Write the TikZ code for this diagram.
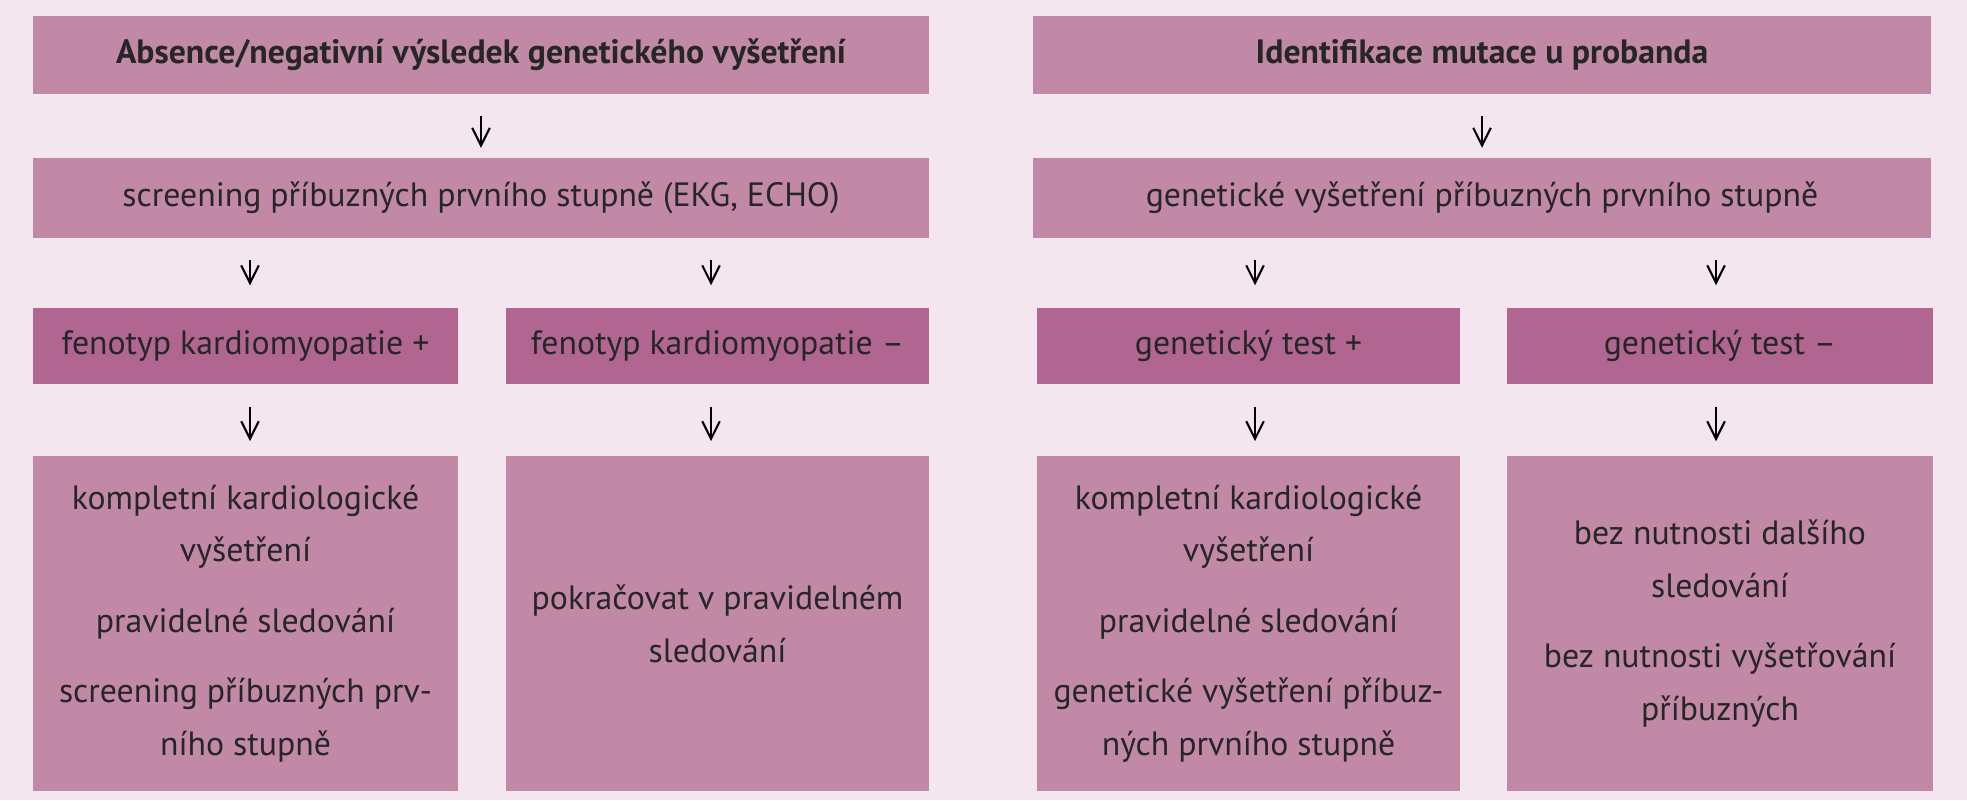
\documentclass[tikz,border=0pt]{standalone}
\usepackage{fontspec}
\setmainfont{PT Sans}
\usetikzlibrary{arrows.meta}
\definecolor{bg}{HTML}{F4E6EE}
\definecolor{boxc}{HTML}{C189A5}
\definecolor{boxd}{HTML}{B06690}
\tikzset{
 bx/.style={fill=boxc, inner sep=0pt, align=center, font=\fontsize{9.6}{15}\selectfont, text=black!85},
 dk/.style={bx, fill=boxd},
 ar/.style={-{Straight Barb[length=5pt,width=5pt]}, black, line width=0.6pt}
}
\begin{document}
\begin{tikzpicture}[x=0.01cm,y=-0.01cm]
\useasboundingbox[fill=bg] (0,0) rectangle (1967,800);
\node[bx, minimum width=8.96cm, minimum height=0.77cm, font=\fontsize{9.6}{15}\selectfont\bfseries] (h1) at (481,55) {Absence/negativní výsledek genetického vyšetření};
\node[bx, minimum width=8.98cm, minimum height=0.77cm, font=\fontsize{9.6}{15}\selectfont\bfseries] (h2) at (1482,55) {Identifikace mutace u probanda};
\node[bx, minimum width=8.96cm, minimum height=0.79cm] (s1) at (481,198) {screening příbuzných prvního stupně (EKG, ECHO)};
\node[bx, minimum width=8.98cm, minimum height=0.79cm] (s2) at (1482,198) {genetické vyšetření příbuzných prvního stupně};
\node[dk, minimum width=4.25cm, minimum height=0.76cm] (a) at (245.5,346) {fenotyp kardiomyopatie +};
\node[dk, minimum width=4.23cm, minimum height=0.76cm] (b) at (717.5,346) {fenotyp kardiomyopatie –};
\node[dk, minimum width=4.23cm, minimum height=0.76cm] (c) at (1248.5,346) {genetický test +};
\node[dk, minimum width=4.26cm, minimum height=0.76cm] (d) at (1720,346) {genetický test –};
\node[bx, minimum width=4.25cm, minimum height=3.35cm] (a2) at (245.5,623.5) {kompletní kardiologické\\vyšetření\\[5pt]pravidelné sledování\\[5pt]screening příbuzných prv-\\ního stupně};
\node[bx, minimum width=4.23cm, minimum height=3.35cm] (b2) at (717.5,623.5) {pokračovat v pravidelném\\sledování};
\node[bx, minimum width=4.23cm, minimum height=3.35cm] (c2) at (1248.5,623.5) {kompletní kardiologické\\vyšetření\\[5pt]pravidelné sledování\\[5pt]genetické vyšetření příbuz-\\ných prvního stupně};
\node[bx, minimum width=4.26cm, minimum height=3.35cm] (d2) at (1720,623.5) {bez nutnosti dalšího\\sledování\\[5pt]bez nutnosti vyšetřování\\příbuzných};
\foreach \u/\v in {h1/s1,h2/s2}{
 \draw[ar] ([yshift=-0.22cm]\u.south) -- ([yshift=0.1cm]\v.north);}
\foreach \u/\v/\x in {s1/a/250,s1/b/711,s2/c/1255,s2/d/1716}{
 \draw[ar] ([yshift=-0.22cm]\u.south -| \x,0) -- ([yshift=0.22cm]\v.north -| \x,0);}
\foreach \u/\v/\x in {a/a2/250,b/b2/711,c/c2/1255,d/d2/1716}{
 \draw[ar] ([yshift=-0.22cm]\u.south -| \x,0) -- ([yshift=0.14cm]\v.north -| \x,0);}
\end{tikzpicture}
\end{document}
